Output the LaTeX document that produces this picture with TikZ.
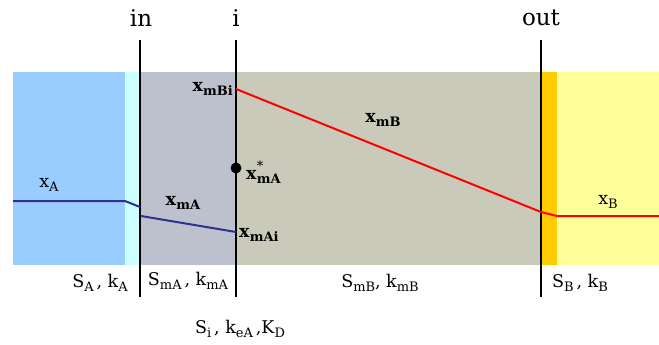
\documentclass[tikz,border=0pt]{standalone}
\usepackage{fontspec}
\setmainfont{DejaVu Serif}
\definecolor{phaseA}{HTML}{99CCFF}
\definecolor{filmA}{HTML}{CCFFFF}
\definecolor{membA}{HTML}{BCC1CD}
\definecolor{membB}{HTML}{CACABB}
\definecolor{filmB}{HTML}{FFCC00}
\definecolor{phaseB}{HTML}{FFFF99}
\definecolor{lineA}{HTML}{2E3192}
\newcommand{\lowsub}[1]{\raisebox{-0.45ex}{\fontsize{13}{13}\selectfont #1}}
\newcommand{\bx}[1]{\textbf{x}\lowsub{\textbf{#1}}}
\begin{document}
\begin{tikzpicture}[x=1pt,y=-1pt,
    face/.style={line width=2.6pt},
    profA/.style={line width=2pt, color=lineA},
    profB/.style={line width=2pt, color=red},
    lbl/.style={inner sep=0pt, font=\fontsize{17.5}{17.5}\selectfont},
    top/.style={inner sep=0pt, font=\fontsize{23}{23}\selectfont}]
					\useasboundingbox (0,0) rectangle (659,345);
					% phases
					\fill[phaseA] (13,72) rectangle (125,265);
					\fill[filmA] (125,72) rectangle (140,265);
					\fill[membA] (140,72) rectangle (236,265);
					\fill[membB] (236,72) rectangle (541,265);
					\fill[filmB] (541,72) rectangle (557,265);
					\fill[phaseB] (557,72) rectangle (659,265);

					% interfaces
					\coordinate (inTop) at (140,40);
					\coordinate (inBot) at (140,297);
					\coordinate (iTop) at (236,40);
					\coordinate (iBot) at (236,297);
					\coordinate (outTop) at (541,40);
					\coordinate (outBot) at (541,297);
					\draw[face] (inTop) -- (inBot);
					\draw[face] (iTop) -- (iBot);
					\draw[face] (outTop) -- (outBot);
					\node[top] (inLbl) at (141,18) {in};
					\node[top] (iLbl) at (236,18) {i};
					\node[top] (outLbl) at (541,18) {out};

					% profile of A
					\coordinate (a0) at (13,201);
					\coordinate (a1) at (125,201);
					\coordinate (a2) at (140,207);
					\coordinate (a3) at (141,216);
					\coordinate (a4) at (236,232);
					\draw[profA] (a0) -- (a1) -- (a2);
					\draw[profA] (a3) -- (a4);

					% profile of B
					\coordinate (b0) at (236,89);
					\coordinate (b1) at (541,212);
					\coordinate (b2) at (557,216);
					\coordinate (b3) at (659,216);
					\draw[profB] (b0) -- (b1) -- (b2) -- (b3);

					\node[circle, fill, inner sep=0pt, minimum size=11pt] (star) at (236,168) {};

					% labels
					\node[lbl] (xA) at (49,185) {x\lowsub{A}};
					\node[lbl] (xB) at (608,202) {x\lowsub{B}};
					\node[lbl] (xmA) at (183,203) {\bx{mA}};
					\node[lbl, anchor=west] (xmAi) at (239,235) {\bx{mAi}};
					\node[lbl, anchor=east] (xmBi) at (233,89) {\bx{mBi}};
					\node[lbl] (xmB) at (383,120) {\bx{mB}};
					\node[lbl, anchor=west] (xstar) at (246,172) {\textbf{x}\raisebox{-0.5ex}{\fontsize{13}{13}\selectfont\shortstack[l]{\raisebox{0.6ex}{*}\\[-3pt]\textbf{mA}}}};

					\node[lbl] (kA) at (100,283) {S\lowsub{A}\,, k\lowsub{A}};
					\node[lbl] (kmA) at (188,281) {S\lowsub{mA}\,, k\lowsub{mA}};
					\node[lbl] (kmB) at (380,283) {S\lowsub{mB}, k\lowsub{mB}};
					\node[lbl] (kB) at (580,283) {S\lowsub{B}\,, k\lowsub{B}};
					\node[lbl] (ki) at (240,329) {S\lowsub{i}\,, k\lowsub{eA}\,,K\lowsub{D}};
				\end{tikzpicture}
\end{document}
